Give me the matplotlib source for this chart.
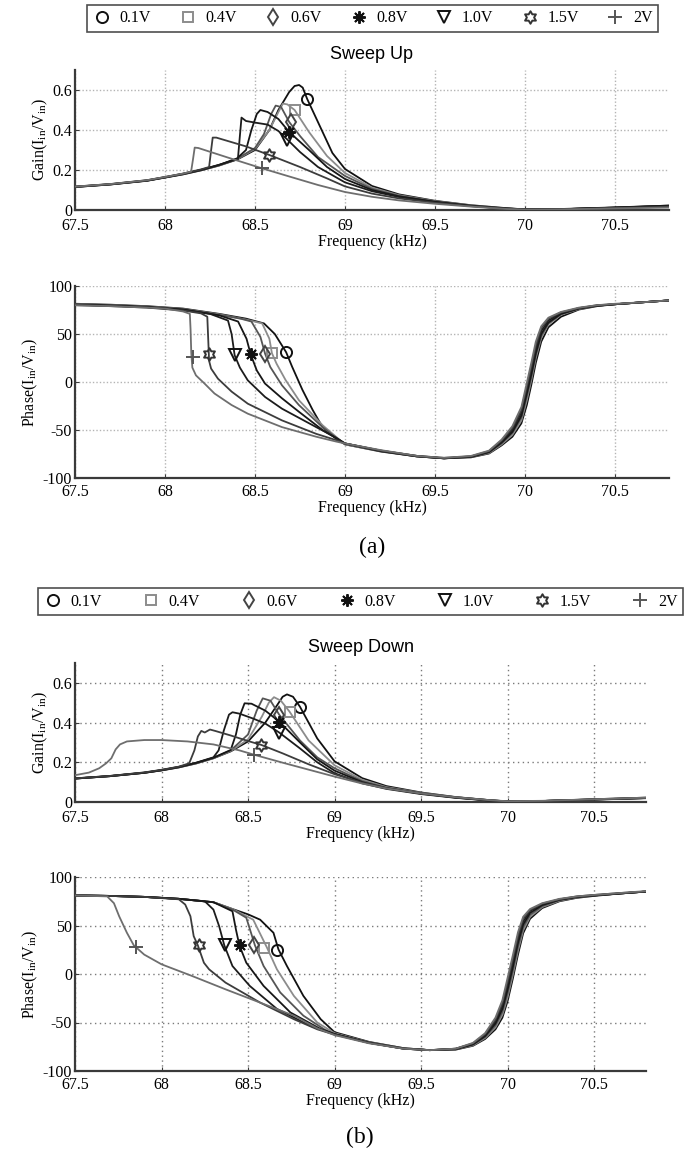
import matplotlib
matplotlib.use('Agg')
import matplotlib.pyplot as plt
from matplotlib.lines import Line2D
from matplotlib.path import Path
import numpy as np

plt.rcParams['font.family'] = ['Liberation Serif', 'DejaVu Serif']
plt.rcParams['mathtext.fontset'] = 'custom'
plt.rcParams['mathtext.rm'] = 'Liberation Serif'
plt.rcParams['mathtext.it'] = 'Liberation Serif:italic'
plt.rcParams['axes.unicode_minus'] = False

# ---------------- data ----------------
labels = ['0.1V', '0.4V', '0.6V', '0.8V', '1.0V', '1.5V', '2V']
xticks = [67.5, 68, 68.5, 69, 69.5, 70, 70.5]
xticklabels = ['67.5', '68', '68.5', '69', '69.5', '70', '70.5']
gain_ticks = [0, 0.2, 0.4, 0.6]
gain_ticklabels = ['0', '0.2', '0.4', '0.6']
phase_ticks = [-100, -50, 0, 50, 100]
phase_ticklabels = ['-100', '-50', '0', '50', '100']

# Sweep up - gain
ug_f_01 = [67.5, 67.7, 67.9, 68.0, 68.1, 68.2, 68.3, 68.4, 68.5, 68.58, 68.63, 68.69, 68.72, 68.745, 68.765, 68.79, 68.86, 68.93, 69.0, 69.15, 69.3, 69.5, 69.7, 69.9, 70.0, 70.2, 70.5, 70.8]
ug_v_01 = [0.115, 0.128, 0.146, 0.162, 0.178, 0.198, 0.222, 0.252, 0.300, 0.400, 0.500, 0.590, 0.620, 0.625, 0.612, 0.555, 0.420, 0.285, 0.205, 0.120, 0.078, 0.046, 0.024, 0.009, 0.003, 0.004, 0.012, 0.022]
ug_f_04 = [67.5, 67.7, 67.9, 68.0, 68.1, 68.2, 68.3, 68.4, 68.5, 68.58, 68.63, 68.655, 68.68, 68.72, 68.8, 68.9, 69.0, 69.15, 69.3, 69.5, 69.7, 69.9, 70.0, 70.2, 70.5, 70.8]
ug_v_04 = [0.115, 0.128, 0.147, 0.163, 0.179, 0.199, 0.223, 0.254, 0.305, 0.40, 0.49, 0.532, 0.528, 0.50, 0.39, 0.27, 0.185, 0.112, 0.074, 0.044, 0.023, 0.008, 0.003, 0.004, 0.011, 0.020]
ug_f_06 = [67.5, 67.7, 67.9, 68.0, 68.1, 68.2, 68.3, 68.4, 68.5, 68.55, 68.59, 68.615, 68.645, 68.69, 68.75, 68.85, 69.0, 69.15, 69.3, 69.5, 69.7, 69.9, 70.0, 70.2, 70.5, 70.8]
ug_v_06 = [0.115, 0.128, 0.147, 0.163, 0.179, 0.200, 0.224, 0.256, 0.310, 0.38, 0.48, 0.522, 0.515, 0.44, 0.37, 0.265, 0.170, 0.106, 0.071, 0.043, 0.022, 0.008, 0.003, 0.004, 0.011, 0.020]
ug_f_08 = [67.5, 67.7, 67.9, 68.0, 68.1, 68.2, 68.3, 68.4, 68.45, 68.48, 68.51, 68.53, 68.57, 68.63, 68.69, 68.8, 68.9, 69.0, 69.15, 69.3, 69.5, 69.7, 69.9, 70.0, 70.2, 70.5, 70.8]
ug_v_08 = [0.116, 0.129, 0.147, 0.163, 0.180, 0.200, 0.225, 0.258, 0.300, 0.40, 0.48, 0.50, 0.49, 0.455, 0.39, 0.30, 0.215, 0.155, 0.100, 0.068, 0.041, 0.021, 0.007, 0.003, 0.005, 0.013, 0.022]
ug_f_10 = [67.5, 67.7, 67.9, 68.0, 68.1, 68.2, 68.3, 68.405, 68.415, 68.425, 68.45, 68.5, 68.57, 68.63, 68.68, 68.75, 68.85, 69.0, 69.15, 69.3, 69.5, 69.7, 69.9, 70.0, 70.2, 70.5, 70.8]
ug_v_10 = [0.116, 0.129, 0.148, 0.164, 0.181, 0.201, 0.226, 0.255, 0.36, 0.462, 0.445, 0.437, 0.427, 0.395, 0.352, 0.29, 0.215, 0.138, 0.094, 0.065, 0.039, 0.020, 0.007, 0.003, 0.004, 0.012, 0.020]
ug_f_15 = [67.5, 67.7, 67.9, 68.0, 68.1, 68.2, 68.245, 68.255, 68.265, 68.285, 68.45, 68.58, 68.75, 68.9, 69.0, 69.15, 69.3, 69.5, 69.7, 69.9, 70.0, 70.2, 70.5, 70.8]
ug_v_15 = [0.117, 0.130, 0.149, 0.165, 0.182, 0.203, 0.215, 0.29, 0.362, 0.362, 0.318, 0.275, 0.215, 0.158, 0.118, 0.082, 0.058, 0.036, 0.019, 0.006, 0.002, 0.004, 0.010, 0.016]
ug_f_20 = [67.5, 67.7, 67.9, 68.0, 68.1, 68.145, 68.155, 68.165, 68.185, 68.35, 68.54, 68.7, 68.85, 69.0, 69.15, 69.3, 69.5, 69.7, 69.9, 70.0, 70.2, 70.5, 70.8]
ug_v_20 = [0.117, 0.130, 0.149, 0.165, 0.182, 0.192, 0.25, 0.312, 0.310, 0.262, 0.208, 0.165, 0.125, 0.090, 0.066, 0.048, 0.031, 0.017, 0.005, 0.002, 0.003, 0.008, 0.012]
ug_mark_f = [68.79, 68.72, 68.70, 68.69, 68.68, 68.58, 68.54]
ug_mark_v = [0.555, 0.50, 0.44, 0.39, 0.352, 0.273, 0.208]

# Sweep up - phase (head up to 69 kHz, shared tail frequencies)
up_f_01 = [67.5, 67.7, 67.9, 68.1, 68.3, 68.45, 68.55, 68.61, 68.65, 68.673, 68.706, 68.763, 68.82, 68.875, 68.95]
up_v_01 = [81.5, 80.5, 79, 76.5, 71, 66, 61, 50, 38, 31, 16, -8, -29, -47, -59]
up_f_04 = [67.5, 67.7, 67.9, 68.1, 68.3, 68.45, 68.54, 68.58, 68.594, 68.62, 68.67, 68.744, 68.875, 68.95]
up_v_04 = [81, 80, 78.5, 76, 70.5, 65, 61, 45, 30, 19, 2, -19, -45, -57]
up_f_06 = [67.5, 67.7, 67.9, 68.1, 68.3, 68.42, 68.48, 68.53, 68.556, 68.585, 68.65, 68.744, 68.875, 68.95]
up_v_06 = [81, 80, 78.5, 76, 70, 66, 63, 47, 29.5, 15.6, -3.5, -24, -47, -58]
up_f_08 = [67.5, 67.7, 67.9, 68.1, 68.3, 68.406, 68.453, 68.476, 68.51, 68.556, 68.65, 68.744, 68.875, 68.95]
up_v_08 = [80.5, 79.5, 78, 75.5, 69.5, 63, 45, 28.8, 12, -1.7, -17, -31, -50, -58.5]
up_f_10 = [67.5, 67.7, 67.9, 68.1, 68.25, 68.35, 68.37, 68.387, 68.416, 68.46, 68.556, 68.65, 68.84, 68.95]
up_v_10 = [80.5, 79.5, 78, 75, 71, 64, 50, 27.8, 15, 1.7, -15.6, -27.8, -47, -58]
up_f_15 = [67.5, 67.7, 67.9, 68.1, 68.2, 68.235, 68.24, 68.245, 68.256, 68.294, 68.37, 68.46, 68.65, 68.84, 68.95]
up_v_15 = [80, 79, 77.5, 74.5, 71.5, 68, 45, 22, 14, 3.5, -10, -22.6, -40, -54, -60.5]
up_f_20 = [67.5, 67.7, 67.9, 68.0, 68.1, 68.138, 68.142, 68.146, 68.152, 68.172, 68.22, 68.275, 68.37, 68.46, 68.65, 68.84, 68.95]
up_v_20 = [80, 79, 77.5, 76.5, 73.5, 71, 55, 30, 15, 6.9, -1.7, -12, -24, -33, -47, -57, -62]
up_tail_f = [69.0, 69.2, 69.4, 69.55, 69.7, 69.8, 69.87, 69.93, 69.98, 70.01, 70.035, 70.06, 70.09, 70.13, 70.2, 70.3, 70.4, 70.5, 70.65, 70.8]
up_tail_01 = [-65, -72.5, -77.5, -79.5, -78.5, -74.5, -66, -57, -43, -24, -3, 20, 42, 57, 68, 75.5, 79, 81, 83, 85]
up_tail_04 = [-65, -72, -77.5, -79.5, -78, -74, -65, -55, -40, -19, 2, 25, 46, 60, 70, 76, 79.5, 81, 83, 85]
up_tail_06 = [-64.5, -72, -77.5, -79.5, -78, -73.5, -64, -53, -37, -15, 5, 28, 48, 61, 70.5, 76.5, 79.5, 81, 83, 85]
up_tail_08 = [-64, -72, -77.5, -79.5, -78, -73, -63, -52, -35, -12, 8, 30, 50, 62, 71, 76.5, 79.5, 81, 83, 85]
up_tail_10 = [-64, -71.5, -77, -79.5, -77.5, -72.5, -62, -50, -32, -8, 12, 34, 53, 64, 72, 77, 79.5, 81, 83, 85]
up_tail_15 = [-64, -71.5, -77, -79, -77.5, -72, -61, -48, -29, -5, 16, 38, 56, 66, 72.5, 77, 80, 81, 83, 85]
up_tail_20 = [-64, -71, -77, -79, -77, -71.5, -60, -46, -26, -1, 20, 42, 58, 67, 73, 77.5, 80, 81.5, 83, 85]
up_mark_f = [68.673, 68.594, 68.556, 68.476, 68.387, 68.247, 68.153]
up_mark_v = [31, 30, 29.5, 28.8, 27.8, 28.8, 26]

# Sweep down - gain
dg_f_01 = [67.5, 67.7, 67.9, 68.0, 68.1, 68.2, 68.3, 68.4, 68.5, 68.6, 68.67, 68.7, 68.725, 68.76, 68.8, 68.9, 69.0, 69.16, 69.3, 69.5, 69.7, 69.9, 70.0, 70.2, 70.5, 70.8]
dg_v_01 = [0.118, 0.130, 0.147, 0.159, 0.174, 0.194, 0.220, 0.255, 0.305, 0.40, 0.49, 0.53, 0.542, 0.53, 0.48, 0.32, 0.205, 0.120, 0.080, 0.048, 0.025, 0.009, 0.003, 0.005, 0.014, 0.022]
dg_f_04 = [67.5, 67.7, 67.9, 68.0, 68.1, 68.2, 68.3, 68.4, 68.5, 68.58, 68.62, 68.65, 68.69, 68.74, 68.85, 69.0, 69.16, 69.3, 69.5, 69.7, 69.9, 70.0, 70.2, 70.5, 70.8]
dg_v_04 = [0.118, 0.130, 0.147, 0.160, 0.175, 0.195, 0.221, 0.257, 0.315, 0.43, 0.50, 0.528, 0.51, 0.455, 0.31, 0.185, 0.112, 0.075, 0.046, 0.024, 0.008, 0.003, 0.005, 0.013, 0.021]
dg_f_06 = [67.5, 67.7, 67.9, 68.0, 68.1, 68.2, 68.3, 68.4, 68.5, 68.55, 68.585, 68.63, 68.68, 68.8, 68.9, 69.0, 69.16, 69.3, 69.5, 69.7, 69.9, 70.0, 70.2, 70.5, 70.8]
dg_v_06 = [0.118, 0.130, 0.147, 0.160, 0.175, 0.196, 0.222, 0.260, 0.34, 0.46, 0.522, 0.51, 0.44, 0.31, 0.225, 0.170, 0.105, 0.072, 0.044, 0.023, 0.008, 0.003, 0.005, 0.013, 0.020]
dg_f_08 = [67.5, 67.7, 67.9, 68.0, 68.1, 68.2, 68.3, 68.4, 68.43, 68.455, 68.48, 68.52, 68.6, 68.68, 68.8, 68.9, 69.0, 69.16, 69.3, 69.5, 69.7, 69.9, 70.0, 70.2, 70.5, 70.8]
dg_v_08 = [0.118, 0.130, 0.147, 0.160, 0.176, 0.197, 0.223, 0.262, 0.34, 0.44, 0.497, 0.495, 0.46, 0.405, 0.30, 0.215, 0.158, 0.100, 0.069, 0.042, 0.022, 0.007, 0.003, 0.005, 0.013, 0.020]
dg_f_10 = [67.5, 67.7, 67.9, 68.0, 68.1, 68.2, 68.3, 68.33, 68.36, 68.39, 68.41, 68.45, 68.53, 68.6, 68.68, 68.8, 68.9, 69.0, 69.16, 69.3, 69.5, 69.7, 69.9, 70.0, 70.2, 70.5, 70.8]
dg_v_10 = [0.119, 0.131, 0.148, 0.161, 0.177, 0.198, 0.225, 0.26, 0.36, 0.44, 0.452, 0.445, 0.42, 0.395, 0.35, 0.27, 0.20, 0.145, 0.094, 0.066, 0.040, 0.021, 0.007, 0.003, 0.005, 0.012, 0.020]
dg_f_15 = [67.5, 67.7, 67.9, 68.0, 68.1, 68.16, 68.19, 68.21, 68.23, 68.25, 68.28, 68.31, 68.4, 68.5, 68.575, 68.7, 68.85, 69.0, 69.16, 69.3, 69.5, 69.7, 69.9, 70.0, 70.2, 70.5, 70.8]
dg_v_15 = [0.119, 0.131, 0.149, 0.162, 0.178, 0.195, 0.26, 0.33, 0.358, 0.350, 0.365, 0.358, 0.335, 0.307, 0.288, 0.245, 0.19, 0.140, 0.097, 0.070, 0.044, 0.024, 0.009, 0.003, 0.005, 0.012, 0.019]
dg_f_20 = [67.5, 67.58, 67.64, 67.68, 67.71, 67.735, 67.76, 67.8, 67.9, 68.0, 68.15, 68.3, 68.45, 68.535, 68.7, 68.85, 69.0, 69.16, 69.3, 69.5, 69.7, 69.9, 70.0, 70.2, 70.5, 70.8]
dg_v_20 = [0.135, 0.148, 0.170, 0.195, 0.22, 0.265, 0.29, 0.305, 0.312, 0.312, 0.305, 0.29, 0.26, 0.238, 0.198, 0.163, 0.128, 0.093, 0.068, 0.043, 0.024, 0.009, 0.004, 0.006, 0.014, 0.022]
dg_mark_f = [68.80, 68.74, 68.68, 68.68, 68.68, 68.575, 68.535]
dg_mark_v = [0.48, 0.455, 0.44, 0.405, 0.35, 0.288, 0.238]

# Sweep down - phase
dp_f_01 = [67.5, 67.7, 67.9, 68.1, 68.3, 68.41, 68.5, 68.57, 68.647, 68.676, 68.725, 68.82, 68.92]
dp_v_01 = [81, 80.5, 79.5, 77.5, 74, 67, 61.5, 56, 42.5, 25.3, 8.2, -22.6, -46.6]
dp_f_04 = [67.5, 67.7, 67.9, 68.1, 68.3, 68.41, 68.53, 68.61, 68.667, 68.765, 68.9]
dp_v_04 = [81, 80.5, 79.5, 77.5, 74, 67, 56, 27, 4.8, -22.6, -50]
dp_f_06 = [67.5, 67.7, 67.9, 68.1, 68.3, 68.41, 68.49, 68.54, 68.59, 68.686, 68.82, 68.94]
dp_v_06 = [81, 80.5, 79.5, 77.5, 74, 66.5, 58, 29.5, 8.2, -19, -43, -57]
dp_f_08 = [67.5, 67.7, 67.9, 68.1, 68.3, 68.41, 68.43, 68.45, 68.49, 68.59, 68.745, 68.92]
dp_v_08 = [81, 80.5, 79.5, 77.5, 74, 64.7, 45.9, 29.5, 11.6, -12.3, -39.7, -56.8]
dp_f_10 = [67.5, 67.7, 67.9, 68.1, 68.25, 68.3, 68.333, 68.363, 68.41, 68.51, 68.667, 68.86]
dp_v_10 = [81, 80.5, 79.5, 77.5, 75, 66.4, 49.3, 29.5, 8.2, -12.3, -36, -53.4]
dp_f_15 = [67.5, 67.7, 67.9, 68.1, 68.137, 68.167, 68.186, 68.21, 68.245, 68.275, 68.37, 68.57, 68.765, 68.9]
dp_v_15 = [81, 80.5, 79.5, 77, 71.6, 59.6, 39, 29.5, 11.6, 4.8, -8.9, -29.5, -46.6, -57]
dp_f_20 = [67.5, 67.686, 67.725, 67.755, 67.80, 67.84, 67.9, 68.0, 68.176, 68.37, 68.57, 68.765, 68.9]
dp_v_20 = [81, 80, 73, 59.6, 42.5, 29.5, 20, 10, -2, -15.8, -29.5, -43, -56]
dp_tail_f = [69.0, 69.2, 69.4, 69.55, 69.7, 69.8, 69.87, 69.93, 69.97, 70.0, 70.03, 70.06, 70.09, 70.13, 70.2, 70.3, 70.4, 70.5, 70.65, 70.8]
dp_tail_01 = [-60, -70, -76.5, -78.5, -78, -74, -67, -57, -45, -28, -5, 20, 42, 57, 68, 75, 78.5, 80.5, 83, 85]
dp_tail_04 = [-61, -70.5, -76.5, -78.5, -77.5, -73.5, -66, -55, -42, -24, -1, 24, 45, 59, 69, 75.5, 79, 81, 83, 85]
dp_tail_06 = [-62, -70.5, -76.5, -78.5, -77.5, -73, -65, -53, -39, -20, 3, 28, 48, 61, 70, 76, 79, 81, 83, 85]
dp_tail_08 = [-62, -71, -77, -78.5, -77.5, -72.5, -64, -51, -36, -16, 7, 32, 51, 63, 71, 76.5, 79.5, 81, 83, 85]
dp_tail_10 = [-62, -71, -77, -78.5, -77, -72, -63, -49, -33, -12, 11, 35, 54, 65, 72, 77, 79.5, 81, 83, 85]
dp_tail_15 = [-62.5, -71, -77, -78.5, -77, -71.5, -62, -47, -30, -8, 15, 39, 57, 66, 72.5, 77, 80, 81.5, 83.5, 85]
dp_tail_20 = [-63, -71.5, -77, -78.5, -77, -71, -61, -45, -27, -4, 19, 43, 59, 67, 73, 77.5, 80, 81.5, 83.5, 85.5]
dp_mark_f = [68.67, 68.595, 68.535, 68.455, 68.365, 68.216, 67.85]
dp_mark_v = [24.7, 27, 29.5, 29.5, 29.5, 29.5, 28]

# ---------------- style ----------------
line_colors = ['#111111', '#8c8c8c', '#555555', '#161616', '#1c1c1c', '#3c3c3c', '#6e6e6e']
mark_colors = ['#111111', '#8c8c8c', '#444444', '#111111', '#111111', '#333333', '#555555']

ang = np.deg2rad(90 + 30 * np.arange(12))
rad = np.where(np.arange(12) % 2 == 0, 1.0, 0.58)
hv = np.c_[rad * np.cos(ang), rad * np.sin(ang)]
hexagram = Path(np.vstack([hv, hv[:1]]), [Path.MOVETO] + [Path.LINETO] * 11 + [Path.CLOSEPOLY])
markers = ['o', 's', 'd', (8, 2, 0), 'v', hexagram, '+']
msizes = [8, 7, 8, 9, 8, 9, 10]

W, H = 694, 1153
fig = plt.figure(figsize=(W / 100, H / 100), dpi=100)


def axes_px(left, top, right, bottom):
    return fig.add_axes([left / W, 1 - bottom / H, (right - left) / W, (bottom - top) / H])


def style(ax, ylim, yt, ytl, ylabel, gcol, gls, xpad):
    ax.set_xlim(67.5, 70.8)
    ax.set_ylim(*ylim)
    ax.set_xticks(xticks)
    ax.set_xticklabels(xticklabels)
    ax.set_yticks(yt)
    ax.set_yticklabels(ytl)
    for s in ['top', 'right']:
        ax.spines[s].set_visible(False)
    for s in ['left', 'bottom']:
        ax.spines[s].set_linewidth(1.6)
        ax.spines[s].set_color('#3a3a3a')
    ax.grid(True, color=gcol, ls=gls, lw=1.0)
    ax.set_axisbelow(True)
    ax.tick_params(direction='in', length=3, labelsize=11.5, color='#3a3a3a')
    ax.tick_params(axis='x', pad=xpad)
    ax.tick_params(axis='y', pad=2)
    ax.set_ylabel(ylabel, fontsize=11.5, labelpad=2)
    ax.set_xlabel('Frequency (kHz)', fontsize=11.5, labelpad=0)


gain_label = r'Gain(I$_{\mathregular{in}}$/V$_{\mathregular{in}}$)'
phase_label = r'Phase(I$_{\mathregular{in}}$/V$_{\mathregular{in}}$)'


def draw(ax, fs, vs, mf, mv):
    for i in range(7):
        ax.plot(fs[i], vs[i], color=line_colors[i], lw=1.3, zorder=3)
    for i in range(7):
        ax.plot([mf[i]], [mv[i]], ls='none', marker=markers[i], ms=msizes[i],
                mfc='none', mec=mark_colors[i], mew=1.4, zorder=4)


# (a) gain
ax1 = axes_px(75, 70, 669, 210)
draw(ax1, [ug_f_01, ug_f_04, ug_f_06, ug_f_08, ug_f_10, ug_f_15, ug_f_20],
     [ug_v_01, ug_v_04, ug_v_06, ug_v_08, ug_v_10, ug_v_15, ug_v_20], ug_mark_f, ug_mark_v)
style(ax1, (0, 0.7), gain_ticks, gain_ticklabels, gain_label, '#b4b4b4', (0, (1, 1.5)), 6)
ax1.set_title('Sweep Up', family=['Liberation Sans'], fontsize=13, pad=8)

# (a) phase
ax2 = axes_px(75, 286, 669, 478)
heads_f = [up_f_01, up_f_04, up_f_06, up_f_08, up_f_10, up_f_15, up_f_20]
heads_v = [up_v_01, up_v_04, up_v_06, up_v_08, up_v_10, up_v_15, up_v_20]
tails = [up_tail_01, up_tail_04, up_tail_06, up_tail_08, up_tail_10, up_tail_15, up_tail_20]
draw(ax2, [hf + up_tail_f for hf in heads_f], [hv_ + t for hv_, t in zip(heads_v, tails)], up_mark_f, up_mark_v)
style(ax2, (-100, 100), phase_ticks, phase_ticklabels, phase_label, '#b4b4b4', (0, (1, 1.5)), 4.5)

# (b) gain
ax3 = axes_px(75, 663, 646, 802)
draw(ax3, [dg_f_01, dg_f_04, dg_f_06, dg_f_08, dg_f_10, dg_f_15, dg_f_20],
     [dg_v_01, dg_v_04, dg_v_06, dg_v_08, dg_v_10, dg_v_15, dg_v_20], dg_mark_f, dg_mark_v)
style(ax3, (0, 0.7), gain_ticks, gain_ticklabels, gain_label, '#7a7a7a', (0, (1, 2.5)), 6)
ax3.set_title('Sweep Down', family=['Liberation Sans'], fontsize=13, pad=8)

# (b) phase
ax4 = axes_px(75, 877, 646, 1071)
heads_f = [dp_f_01, dp_f_04, dp_f_06, dp_f_08, dp_f_10, dp_f_15, dp_f_20]
heads_v = [dp_v_01, dp_v_04, dp_v_06, dp_v_08, dp_v_10, dp_v_15, dp_v_20]
tails = [dp_tail_01, dp_tail_04, dp_tail_06, dp_tail_08, dp_tail_10, dp_tail_15, dp_tail_20]
draw(ax4, [hf + dp_tail_f for hf in heads_f], [hv_ + t for hv_, t in zip(heads_v, tails)], dp_mark_f, dp_mark_v)
style(ax4, (-100, 100), phase_ticks, phase_ticklabels, phase_label, '#7a7a7a', (0, (1, 2.5)), 4.5)

# legends
handles = [Line2D([], [], ls='none', marker=markers[i], ms=msizes[i], mfc='none',
                  mec=mark_colors[i], mew=1.4) for i in range(7)]
for (x0, y0, x1, y1) in [(87, 5, 658, 32), (38, 586, 683, 617)]:
    leg = fig.legend(handles, labels, loc='center', ncol=7, mode='expand',
                     bbox_to_anchor=(x0 / W, 1 - y1 / H, (x1 - x0) / W, (y1 - y0) / H),
                     frameon=True, fancybox=False, edgecolor='#222222', fontsize=11.5,
                     handletextpad=0.5, borderaxespad=0, borderpad=0.35, handlelength=1.2)
    leg.get_frame().set_linewidth(1.2)

fig.text(372 / W, 1 - 547 / H, '(a)', ha='center', va='center', fontsize=17)
fig.text(360 / W, 1 - 1137 / H, '(b)', ha='center', va='center', fontsize=17)

fig.savefig('out.png', dpi=100)
